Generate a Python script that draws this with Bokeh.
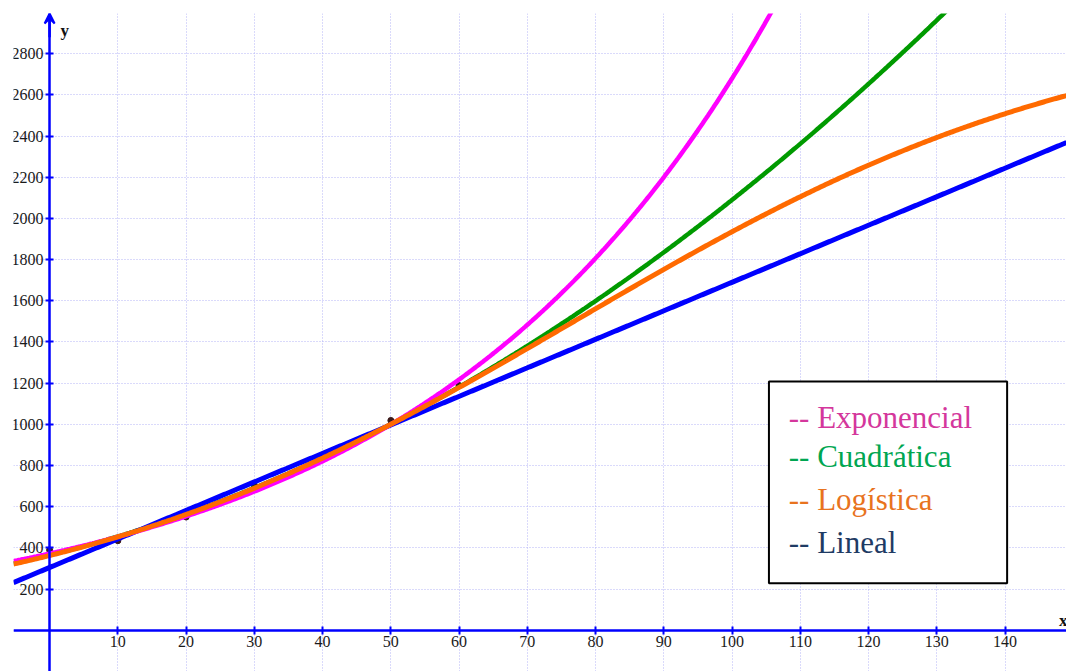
import numpy as np
from bokeh.plotting import figure
from bokeh.models import FixedTicker, BoxAnnotation, Label, Arrow, VeeHead
from bokeh.core.properties import value
from bokeh.embed import file_html
from bokeh.resources import INLINE

# ---- data ----
data_x = [0, 10, 20, 30, 40, 50, 60]
data_y = [390, 435, 550, 704, 850, 1019, 1189]

# fitted models (coefficients)
exp_a, exp_b = 373, 0.01972                 # y = a * e^(b x)
quad_c, quad_b, quad_a = 365, 8.15, 0.091   # y = c + b x + a x^2
log_L, log_A, log_k = 3000, 7.26, 0.0258    # y = L / (1 + A e^(-k x))
lin_c, lin_m = 305, 13.85                   # y = c + m x

x_ticks = [10, 20, 30, 40, 50, 60, 70, 80, 90, 100, 110, 120, 130, 140]
y_ticks = [200, 400, 600, 800, 1000, 1200, 1400, 1600, 1800, 2000, 2200, 2400, 2600, 2800]
x_grid = [0, 10, 20, 30, 40, 50, 60, 70, 80, 90, 100, 110, 120, 130, 140]
y_grid = [-200, 0, 200, 400, 600, 800, 1000, 1200, 1400, 1600, 1800, 2000, 2200, 2400, 2600, 2800]

legend_labels = ["-- Exponencial", "-- Cuadrática", "-- Logística", "-- Lineal"]
legend_colors = ["#d4379c", "#00a651", "#e8731e", "#1f3b64"]

X_MIN, X_MAX = -5.29, 149.0
Y_MIN, Y_MAX = -200, 2995

p = figure(width=1066, height=671, x_range=(X_MIN, X_MAX), y_range=(Y_MIN, Y_MAX),
           output_backend="svg", toolbar_location=None,
           min_border_left=13, min_border_top=13, min_border_right=0, min_border_bottom=0,
           outline_line_color=None, background_fill_color="white")

# grids
p.xgrid.ticker = FixedTicker(ticks=x_grid)
p.ygrid.ticker = FixedTicker(ticks=y_grid)
for g in (p.xgrid, p.ygrid):
    g.grid_line_color = "#b4b4f6"
    g.grid_line_dash = "1 2"
    g.grid_line_width = 1

# axes crossing at origin
for ax, ticks in ((p.xaxis, x_ticks), (p.yaxis, y_ticks)):
    ax.fixed_location = 0
    ax.ticker = FixedTicker(ticks=ticks)
    ax.minor_tick_line_color = None
    ax.axis_line_color = "#0000ff"
    ax.axis_line_width = 2.5
    ax.major_tick_line_color = "#0000ff"
    ax.major_tick_line_width = 2
    ax.major_tick_in = 4
    ax.major_tick_out = 4
    ax.major_label_text_font = "Liberation Serif"
    ax.major_label_text_font_size = "16px"
    ax.major_label_text_color = "#1a1a1a"
    ax.major_label_standoff = 2

p.add_layout(Arrow(end=VeeHead(size=10, line_color="#0000ff", fill_color="#0000ff", line_width=2),
                   x_start=0, y_start=2880, x_end=0, y_end=Y_MAX,
                   line_color="#0000ff", line_width=2.5))

# data points
p.scatter(data_x, data_y, size=6, color="#3a1a1a")

# curves
xs = np.linspace(X_MIN, X_MAX, 600)
y_lin = lin_c + lin_m * xs
y_exp = exp_a * np.exp(exp_b * xs)
y_quad = quad_c + quad_b * xs + quad_a * xs ** 2
y_log = log_L / (1 + log_A * np.exp(-log_k * xs))

p.line(xs, y_quad, line_color="#009a00", line_width=4.5)
p.line(xs, y_lin, line_color="#0000ff", line_width=5)
p.line(xs, y_exp, line_color="#ff00ff", line_width=4.5)
p.line(xs, y_log, line_color="#ff6a00", line_width=5)

# axis names
p.text(x=[1.6], y=[2913], text=["y"], text_font=value("Liberation Serif"),
       text_font_size="17px", text_font_style="bold", text_color="#111111",
       text_baseline="alphabetic")
p.text(x=[147.9], y=[48], text=["x"], text_font=value("Liberation Serif"),
       text_font_size="17px", text_font_style="bold", text_color="#111111",
       text_baseline="alphabetic")

# legend-like text box
p.add_layout(BoxAnnotation(left=105.4, right=140.3, top=1208, bottom=228,
                           fill_color="white", fill_alpha=1.0,
                           line_color="black", line_alpha=1.0, line_width=2))
legend_y = [1033, 844, 635, 426]
for txt, col, ly in zip(legend_labels, legend_colors, legend_y):
    p.add_layout(Label(x=108.3, y=ly, text=txt, text_font="Liberation Serif",
                       text_font_size="31px", text_color=col, text_baseline="alphabetic"))

open("out.html", "w").write(file_html(p, INLINE))
